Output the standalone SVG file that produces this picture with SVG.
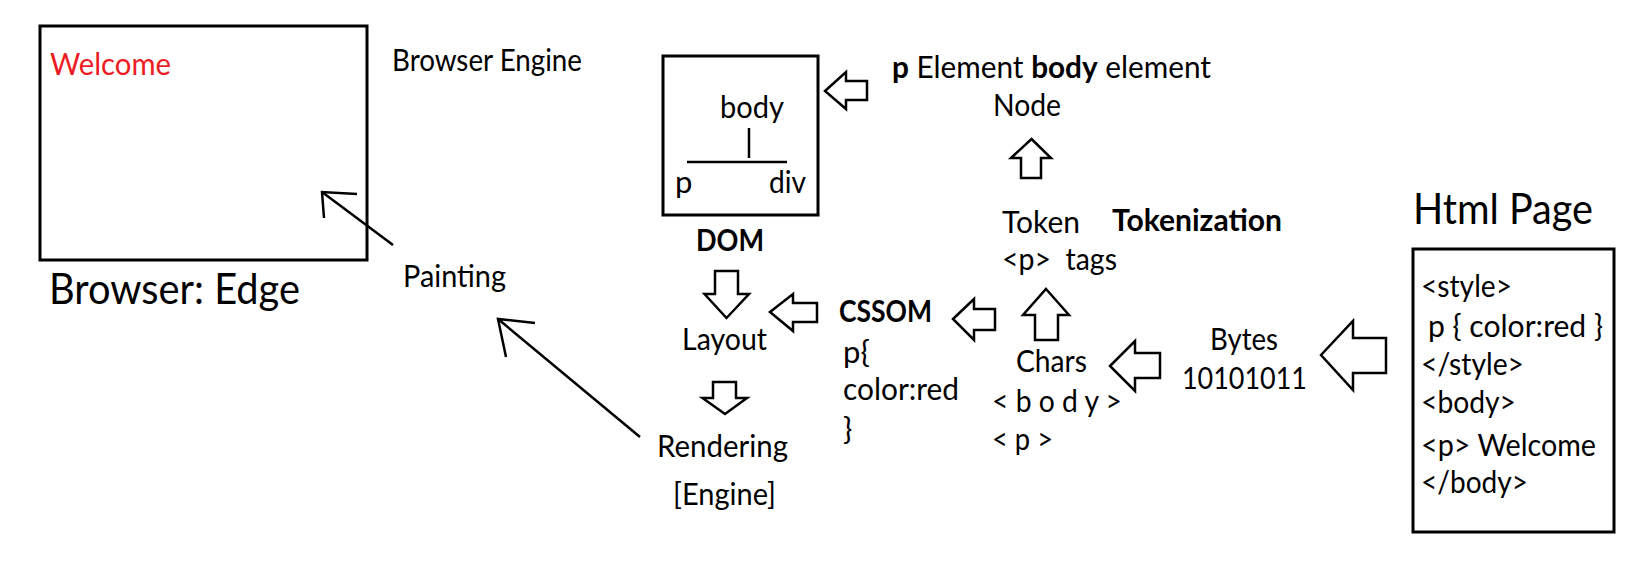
<svg xmlns="http://www.w3.org/2000/svg" width="1639" height="574" viewBox="0 0 1639 574">
<style>
text{font-family:Lato,"Open Sans","Liberation Sans",sans-serif;font-size:31px;fill:#000}
.b{font-weight:bold}
.big{font-size:42px}
.red{fill:#ED1C24}
.box{fill:none;stroke:#000;stroke-width:3}
.ln{fill:none;stroke:#000;stroke-width:2.5}
.blk{fill:#fff;stroke:#000;stroke-width:2.5;stroke-linejoin:miter}
</style>
<rect width="1639" height="574" fill="#fff"/>
<g id="browser">
<rect class="box" x="40" y="26" width="327" height="234"/>
<text class="red" x="50" y="75" textLength="121" lengthAdjust="spacingAndGlyphs">Welcome</text>
<text class="big" x="49" y="304" textLength="251" lengthAdjust="spacingAndGlyphs">Browser: Edge</text>
</g>
<g id="browser-engine"><text x="392" y="71" textLength="190" lengthAdjust="spacingAndGlyphs">Browser Engine</text></g>
<g id="painting"><text x="403" y="287" textLength="103" lengthAdjust="spacingAndGlyphs">Painting</text></g>
<g id="dom">
<rect class="box" x="663" y="56" width="155" height="159"/>
<text x="720" y="118" textLength="64" lengthAdjust="spacingAndGlyphs">body</text>
<line class="ln" x1="749" y1="128" x2="749" y2="158"/>
<line class="ln" x1="687" y1="162" x2="787" y2="162"/>
<text x="675" y="193">p</text>
<text x="769" y="193" textLength="37" lengthAdjust="spacingAndGlyphs">div</text>
<text class="b" x="696" y="251" textLength="68" lengthAdjust="spacingAndGlyphs">DOM</text>
</g>
<g id="node">
<text x="892" y="78" textLength="319" lengthAdjust="spacingAndGlyphs"><tspan class="b">p</tspan> Element <tspan class="b">body</tspan> element</text>
<text x="993" y="116" textLength="68" lengthAdjust="spacingAndGlyphs">Node</text>
</g>
<g id="token">
<text x="1002" y="233" textLength="78" lengthAdjust="spacingAndGlyphs">Token</text>
<text class="b" x="1112" y="231" textLength="170" lengthAdjust="spacingAndGlyphs">Tokenization</text>
<text x="1002" y="270" textLength="115" lengthAdjust="spacingAndGlyphs" xml:space="preserve">&lt;p&gt;  tags</text>
</g>
<g id="cssom">
<text class="b" x="839" y="322" textLength="93" lengthAdjust="spacingAndGlyphs">CSSOM</text>
<text x="843" y="363">p{</text>
<text x="843" y="400" textLength="116" lengthAdjust="spacingAndGlyphs">color:red</text>
<text x="843" y="440">}</text>
</g>
<g id="layout"><text x="682" y="350" textLength="85" lengthAdjust="spacingAndGlyphs">Layout</text></g>
<g id="rendering">
<text x="657" y="457" textLength="131" lengthAdjust="spacingAndGlyphs">Rendering</text>
<text x="673" y="505" textLength="103" lengthAdjust="spacingAndGlyphs">[Engine]</text>
</g>
<g id="chars">
<text x="1016" y="372" textLength="71" lengthAdjust="spacingAndGlyphs">Chars</text>
<text x="992" y="412" textLength="130" lengthAdjust="spacingAndGlyphs">&lt; b o d y &gt;</text>
<text x="992" y="450" textLength="61" lengthAdjust="spacingAndGlyphs">&lt; p &gt;</text>
</g>
<g id="bytes">
<text x="1210" y="350" textLength="68" lengthAdjust="spacingAndGlyphs">Bytes</text>
<text x="1182" y="389" textLength="125" lengthAdjust="spacingAndGlyphs">10101011</text>
</g>
<g id="html-page">
<text class="big" x="1413" y="224" textLength="180" lengthAdjust="spacingAndGlyphs">Html Page</text>
<rect class="box" x="1413" y="249" width="201" height="283"/>
<text x="1421" y="297" textLength="91" lengthAdjust="spacingAndGlyphs">&lt;style&gt;</text>
<text x="1428" y="337" textLength="175" lengthAdjust="spacingAndGlyphs">p { color:red }</text>
<text x="1421" y="375" textLength="103" lengthAdjust="spacingAndGlyphs">&lt;/style&gt;</text>
<text x="1421" y="413" textLength="95" lengthAdjust="spacingAndGlyphs">&lt;body&gt;</text>
<text x="1421" y="456" textLength="175" lengthAdjust="spacingAndGlyphs">&lt;p&gt; Welcome</text>
<text x="1421" y="493" textLength="107" lengthAdjust="spacingAndGlyphs">&lt;/body&gt;</text>
</g>
<g id="connectors">
<path class="ln" d="M393,245 L322,192 M357,194 L322,192 L324,218"/>
<path class="ln" d="M640,437 L498,319 M535,323 L498,319 L506,357"/>
<polygon class="blk" points="825,91 846,72 846,81 867,81 867,100 846,100 846,109"/>
<polygon class="blk" points="1031.5,139 1051,158 1041,158 1041,178 1021,178 1021,158 1011,158"/>
<polygon class="blk" points="1046,289 1069,315 1058,315 1058,340 1035,340 1035,315 1023,315"/>
<polygon class="blk" points="953,319 974,299 974,309 995,309 995,330 974,330 974,340"/>
<polygon class="blk" points="770,312 793,294 793,303 817,303 817,322 793,322 793,331"/>
<polygon class="blk" points="1110,366 1135,341 1135,353 1160,353 1160,378 1135,378 1135,391"/>
<polygon class="blk" points="1321,355 1353,321 1353,338 1386,338 1386,373 1353,373 1353,390"/>
<polygon class="blk" points="715,271 738,271 738,294 749,294 726.5,318 704.5,294 715,294"/>
<polygon class="blk" points="713,382 736,382 736,398 747,398 725,414 702.5,398 713,398"/>
</g>
</svg>
